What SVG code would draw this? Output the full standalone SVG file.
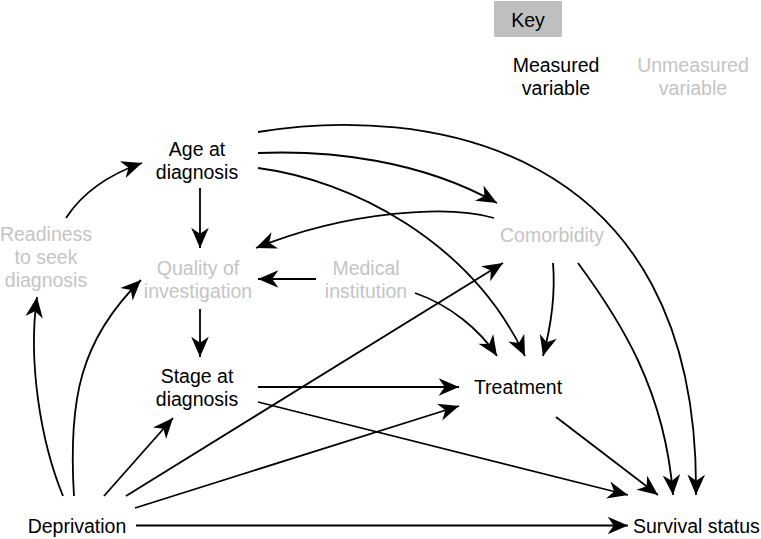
<svg xmlns="http://www.w3.org/2000/svg" width="761" height="539" viewBox="0 0 761 539">
<style>
text{font-family:"Liberation Sans",Arial,sans-serif;font-size:19.5px;text-anchor:middle}
.m{fill:#000}
.u{fill:#c4c4c4}
.e{fill:none;stroke:#000;stroke-width:1.8;marker-end:url(#ah)}
</style>
<defs>
<marker id="ah" markerUnits="userSpaceOnUse" markerWidth="22" markerHeight="22" viewBox="-19 -9 20 18" refX="0" refY="0" orient="auto">
<path d="M0,0 L-18.5,-8 L-13,0 L-18.5,8 Z" fill="#000"/>
</marker>
</defs>
<rect x="494" y="1" width="68" height="36" fill="#bfbfbf"/>
<text x="528" y="27" class="m">Key</text>
<text x="556" y="72" class="m">Measured</text>
<text x="556" y="95" class="m">variable</text>
<text x="693" y="72" class="u">Unmeasured</text>
<text x="693" y="95" class="u">variable</text>
<g id="connectors">
<path class="e" d="M66,218 Q90,181 142,163"/>
<path class="e" d="M200,188 L200,248"/>
<path class="e" d="M494,218 C450,205 350,210 256,248"/>
<path class="e" d="M316,279 L258,279"/>
<path class="e" d="M200,309 L200,357"/>
<path class="e" d="M258,153 C330,150 420,160 497,203"/>
<path class="e" d="M258,168 C350,180 470,240 525,356"/>
<path class="e" d="M258,132 C420,105 700,140 696,495"/>
<path class="e" d="M553,263 C556,300 550,330 543,356"/>
<path class="e" d="M578,263 C620,320 665,390 673,495"/>
<path class="e" d="M415,293 C450,305 480,330 497,356"/>
<path class="e" d="M126,496 L503,263"/>
<path class="e" d="M135,508 L459,406"/>
<path class="e" d="M258,387 L459,387"/>
<path class="e" d="M258,402 L628,495"/>
<path class="e" d="M556,417 L658,495"/>
<path class="e" d="M104,496 L173,418"/>
<path class="e" d="M63,496 C40,440 28,360 37,297"/>
<path class="e" d="M74,496 C68,400 80,340 141,280"/>
<path class="e" d="M136,525.5 L628,525.5"/>
</g>
<g id="age"><text x="197" y="156" class="m">Age at</text><text x="197" y="179" class="m">diagnosis</text></g>
<g id="readiness"><text x="46" y="241" class="u">Readiness</text><text x="46" y="264" class="u">to seek</text><text x="46" y="287" class="u">diagnosis</text></g>
<g id="quality"><text x="198" y="275" class="u">Quality of</text><text x="198" y="298" class="u">investigation</text></g>
<g id="medical"><text x="366" y="275" class="u">Medical</text><text x="366" y="298" class="u">institution</text></g>
<g id="comorbidity"><text x="552" y="242" class="u">Comorbidity</text></g>
<g id="stage"><text x="197" y="383" class="m">Stage at</text><text x="197" y="406" class="m">diagnosis</text></g>
<g id="treatment"><text x="518" y="394" class="m">Treatment</text></g>
<g id="deprivation"><text x="77" y="533" class="m">Deprivation</text></g>
<g id="survival"><text x="633" y="533" class="m" style="text-anchor:start">Survival status</text></g>
</svg>
